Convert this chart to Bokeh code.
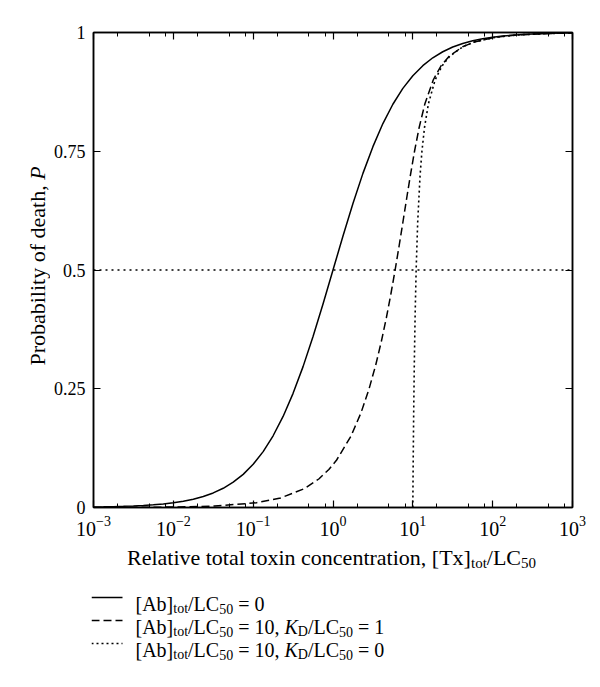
import numpy as np
from bokeh.plotting import figure
from bokeh.models import FixedTicker, LogAxis, LinearAxis, Span, Label, Range1d
from bokeh.layouts import column, row
from bokeh.embed import file_html
from bokeh.resources import INLINE

# ---------------- data ----------------
x_major_ticks = [1e-3, 1e-2, 1e-1, 1, 10, 100, 1000]
x_minor_ticks = [0.002, 0.005, 0.008, 0.02, 0.05, 0.08, 0.2, 0.5, 0.8,
                 2, 5, 8, 20, 50, 80, 200, 500, 800]
y_ticks = [0, 0.25, 0.5, 0.75, 1]
y_tick_labels = ["0", "0.25", "0.5", "0.75", "1"]

# [Ab]tot/LC50 = 0
tx_solid = [0.001, 0.001334, 0.001778, 0.002371, 0.003162, 0.004217, 0.005623, 0.007499,
            0.01, 0.01334, 0.01778, 0.02371, 0.03162, 0.04217, 0.05623, 0.07499,
            0.1, 0.1334, 0.1778, 0.2371, 0.3162, 0.4217, 0.5623, 0.7499,
            1, 1.334, 1.778, 2.371, 3.162, 4.217, 5.623, 7.499,
            10, 13.34, 17.78, 23.71, 31.62, 42.17, 56.23, 74.99,
            100, 133.4, 177.8, 237.1, 316.2, 421.7, 562.3, 749.9, 1000]
p_solid = [0.001, 0.00133, 0.00178, 0.00237, 0.00315, 0.0042, 0.00559, 0.00744,
           0.0099, 0.01316, 0.01747, 0.02316, 0.03065, 0.04046, 0.05324, 0.06976,
           0.0909, 0.1177, 0.151, 0.1917, 0.2403, 0.2966, 0.3599, 0.4285,
           0.5, 0.5715, 0.6401, 0.7034, 0.7597, 0.8083, 0.849, 0.8823,
           0.9091, 0.9302, 0.9468, 0.9595, 0.9694, 0.9768, 0.9825, 0.9868,
           0.9901, 0.9926, 0.9944, 0.9958, 0.9968, 0.9976, 0.9982, 0.9987, 0.999]

# [Ab]tot/LC50 = 10, KD/LC50 = 1
tx_dashed = [0.001, 0.0033, 0.011, 0.033, 0.1101, 0.2204, 0.4417, 0.6638, 0.887, 1.111,
             1.677, 2.25, 2.833, 3.429, 4.038, 4.667, 5.318, 6, 6.722, 7.5,
             8.357, 9.333, 10.5, 12, 14.17, 18, 22.59, 28.5, 42.03, 58.8,
             108.9, 209, 509, 1000]
p_dashed = [0.0000909, 0.0003, 0.001, 0.003, 0.01, 0.02, 0.04, 0.06, 0.08, 0.1,
            0.15, 0.2, 0.25, 0.3, 0.35, 0.4, 0.45, 0.5, 0.55, 0.6,
            0.65, 0.7, 0.75, 0.8, 0.85, 0.9, 0.93, 0.95, 0.97, 0.98,
            0.99, 0.995, 0.998, 0.999]

# [Ab]tot/LC50 = 10, KD/LC50 = 0
tx_dotted = [10, 10.02, 10.05, 10.11, 10.25, 10.43, 10.67, 11, 11.5, 12.33, 13,
             14, 15.67, 19, 23.29, 29, 42.33, 59, 109, 209, 509, 1000]
p_dotted = [0, 0.02, 0.05, 0.1, 0.2, 0.3, 0.4, 0.5, 0.6, 0.7, 0.75,
            0.8, 0.85, 0.9, 0.93, 0.95, 0.97, 0.98, 0.99, 0.995, 0.998, 0.999]

half_level = 0.5

# ---------------- style ----------------
SERIF = "Liberation Serif"
AX = 22       # axis label size
AX_SUB = 15
LEG = 20      # legend text size
LEG_SUB = 14
XTICK = 20
YTICK = 18
DOT_REF = "2 4"
DOT = "2 3"
DASH = "8 4"

# Times-compatible glyph widths (per 1000 em)
W = {' ': 250, '[': 333, ']': 333, 'A': 722, 'b': 500, 't': 278, 'o': 500, '/': 278,
     'L': 611, 'C': 667, '5': 500, '0': 500, '=': 564, '1': 500, ',': 250, 'T': 611,
     'x': 500, 'R': 667, 'e': 444, 'l': 278, 'a': 444, 'i': 278, 'v': 500, 'n': 500,
     'c': 444, 'r': 333, 'D': 722, 'P': 556, 'y': 500, 'f': 333, 'd': 500, 'h': 500,
     'K': 722}
W_IT = {'K': 667, 'P': 611}


def piece_width(text, kind, main, sub):
    size = sub if kind == "sub" else main
    table = W_IT if kind == "ital" else W
    return sum(table.get(ch, W.get(ch, 500)) for ch in text) * size / 1000.0


def total_width(pieces, main, sub):
    return sum(piece_width(t, k, main, sub) for t, k in pieces)


def draw_pieces(fig, x0, y0, pieces, main, sub):
    x = x0
    for text, kind in pieces:
        size = sub if kind == "sub" else main
        lead = len(text) - len(text.lstrip(' '))
        xs = x + lead * W[' '] * size / 1000.0
        dy = -5 if kind == "sub" else 0
        fig.add_layout(Label(x=xs, y=y0 + dy, text=text.strip(' '),
                             text_font=SERIF, text_font_size=f"{size}px",
                             text_font_style="italic" if kind == "ital" else "normal",
                             text_baseline="alphabetic", text_align="left",
                             text_color="black"))
        x += piece_width(text, kind, main, sub)


def bare(fig):
    fig.xaxis.visible = False
    fig.yaxis.visible = False
    fig.grid.visible = False
    fig.outline_line_color = None
    fig.background_fill_color = "white"
    fig.border_fill_color = "white"


YW = 50  # width of the y-label panel

# ---------------- main plot ----------------
p = figure(width=592 - YW, height=541, x_axis_type="log",
           x_range=Range1d(x_major_ticks[0], x_major_ticks[-1]),
           y_range=Range1d(y_ticks[0], y_ticks[-1]),
           output_backend="svg", toolbar_location=None,
           min_border_left=91 - YW, min_border_right=20, min_border_top=32, min_border_bottom=34)
p.grid.visible = False
p.outline_line_color = "black"
p.outline_line_width = 1.5
p.background_fill_color = "white"
p.border_fill_color = "white"

xt = FixedTicker(ticks=x_major_ticks, minor_ticks=x_minor_ticks)
yt = FixedTicker(ticks=y_ticks, minor_ticks=[])


def style_axis(ax, size):
    ax.axis_line_width = 1.5
    ax.axis_line_color = "black"
    ax.major_tick_in = 7
    ax.major_tick_out = 0
    ax.minor_tick_in = 4
    ax.minor_tick_out = 0
    ax.major_tick_line_width = 1.2
    ax.minor_tick_line_width = 1.0
    ax.major_tick_line_color = "black"
    ax.minor_tick_line_color = "black"
    ax.major_label_text_font = SERIF
    if size:
        ax.major_label_text_font_size = f"{size}px"
        ax.major_label_text_color = "black"
    else:
        ax.major_label_text_font_size = "1px"
        ax.major_label_text_color = None
        ax.major_label_standoff = 0


p.xaxis.ticker = xt
style_axis(p.xaxis[0], XTICK)
p.xaxis.major_label_standoff = 8

p.yaxis.ticker = yt
style_axis(p.yaxis[0], YTICK)
p.yaxis.major_label_standoff = 8
p.yaxis.major_label_overrides = {t: lab for t, lab in zip(y_ticks, y_tick_labels)}
p.yaxis.minor_tick_line_color = None

top = LogAxis(ticker=xt)
style_axis(top, None)
p.add_layout(top, "above")
right = LinearAxis(ticker=yt)
style_axis(right, None)
right.minor_tick_line_color = None
p.add_layout(right, "right")

p.add_layout(Span(location=half_level, dimension="width", line_color="black",
                  line_width=1.4, line_dash=DOT_REF))

p.line(tx_solid, p_solid, line_color="black", line_width=1.5)
p.line(tx_dashed, p_dashed, line_color="black", line_width=1.5, line_dash=DASH)
p.line(tx_dotted, p_dotted, line_color="black", line_width=1.6, line_dash=DOT)

# ---------------- y label panel ----------------
yfig = figure(width=YW, height=541, x_range=Range1d(0, YW),
              y_range=Range1d(y_ticks[0], y_ticks[-1]),
              output_backend="svg", toolbar_location=None,
              min_border_left=0, min_border_right=0, min_border_top=32, min_border_bottom=34)
bare(yfig)
y_main = "Probability of death,"
wm = piece_width(y_main, "main", AX, AX_SUB)
ws = piece_width(" ", "main", AX, AX_SUB)
wp = piece_width("P", "ital", AX, AX_SUB)
tot = wm + ws + wp
shift = 4
for text, style, off in [(y_main, "normal", -tot / 2 + shift),
                         ("P", "italic", -tot / 2 + wm + ws + shift)]:
    yfig.add_layout(Label(x=37, y=half_level, y_offset=off, text=text, angle=np.pi / 2,
                          text_font=SERIF, text_font_size=f"{AX}px", text_font_style=style,
                          text_baseline="alphabetic", text_align="left", text_color="black"))

# ---------------- x label + legend panel (screen-pixel coordinates) ----------------
LH = 146
L = figure(width=592, height=LH, x_range=Range1d(91, 572), y_range=Range1d(0, LH),
           output_backend="svg", toolbar_location=None,
           min_border_left=91, min_border_right=20, min_border_top=0, min_border_bottom=0)
bare(L)

xlab = [("Relative total toxin concentration, [Tx]", "main"), ("tot", "sub"),
        ("/LC", "main"), ("50", "sub")]
draw_pieces(L, 331 - total_width(xlab, AX, AX_SUB) / 2, 687 - 557, xlab, AX, AX_SUB)

rows = [
    ([("[Ab]", "main"), ("tot", "sub"), ("/LC", "main"), ("50", "sub"), (" = 0", "main")],
     None),
    ([("[Ab]", "main"), ("tot", "sub"), ("/LC", "main"), ("50", "sub"), (" = 10, ", "main"),
      ("K", "ital"), ("D", "sub"), ("/LC", "main"), ("50", "sub"), (" = 1", "main")], DASH),
    ([("[Ab]", "main"), ("tot", "sub"), ("/LC", "main"), ("50", "sub"), (" = 10, ", "main"),
      ("K", "ital"), ("D", "sub"), ("/LC", "main"), ("50", "sub"), (" = 0", "main")], "2 3"),
]
row_base = [603, 626, 649]
for (pieces, dash), yb in zip(rows, row_base):
    kw = dict(line_color="black", line_width=1.5)
    if dash:
        kw["line_dash"] = dash
    L.line([91, 122], [687 - yb + 6, 687 - yb + 6], **kw)
    draw_pieces(L, 135, 687 - yb, pieces, LEG, LEG_SUB)

layout = column(row(yfig, p), L)
open("out.html", "w").write(file_html(layout, INLINE))
